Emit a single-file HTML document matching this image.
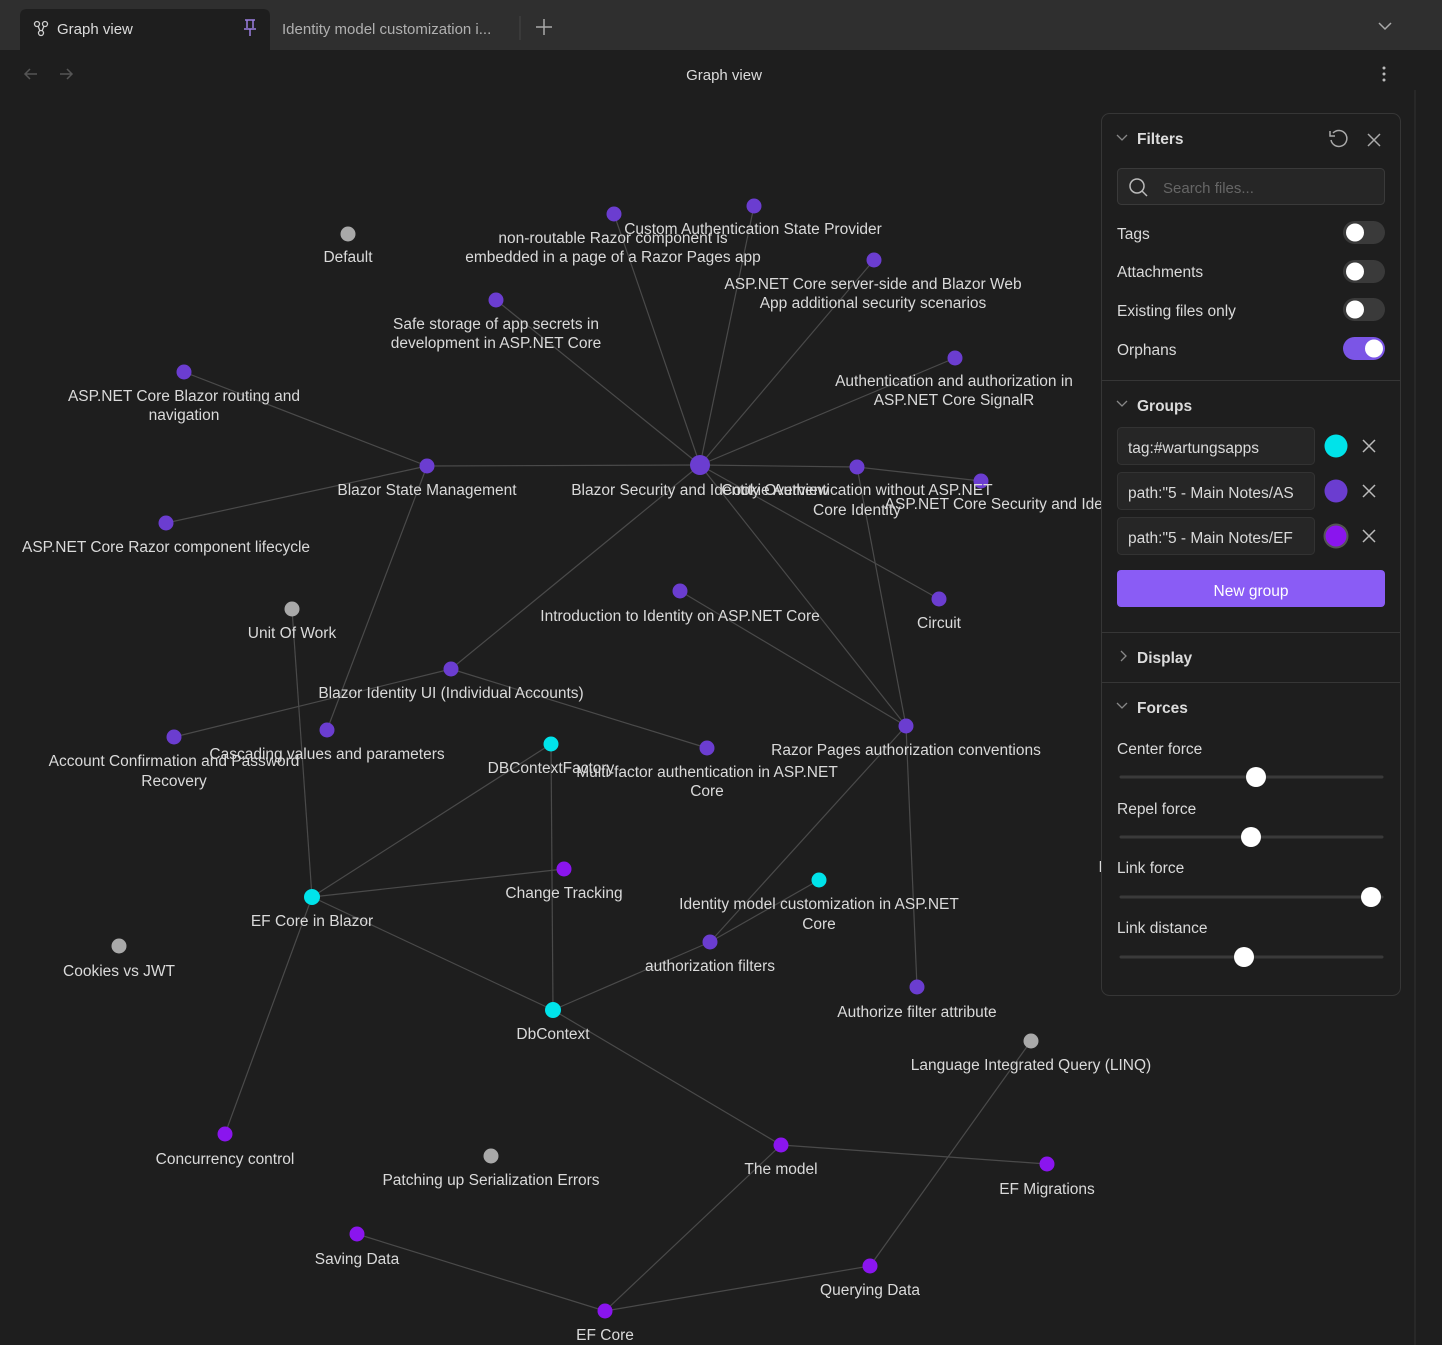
<!DOCTYPE html>
<html><head><meta charset="utf-8"><style>
html,body{margin:0;padding:0;background:#1e1e1e;width:1442px;height:1345px;overflow:hidden;font-family:"Liberation Sans",sans-serif}
svg text{font-family:"Liberation Sans",sans-serif}
</style></head><body>
<svg width="1442" height="1345" viewBox="0 0 1442 1345" xmlns="http://www.w3.org/2000/svg">
<rect width="1442" height="1345" fill="#1e1e1e"/>
<!-- tab bar -->
<rect width="1442" height="50" fill="#2f2f2f"/>
<path d="M20 50 V16 Q20 9 27 9 H263 Q270 9 270 16 V50 Z" fill="#1e1e1e"/>
<g stroke="#cfcfcf" stroke-width="1.3" fill="none"><circle cx="37" cy="24" r="2.5"/><circle cx="45" cy="24" r="2.5"/><circle cx="41" cy="33" r="2.5"/><path d="M38 26 L40 31 M44 26 L42 31"/></g>
<text x="57" y="34" font-size="15" fill="#dcdcdc">Graph view</text>
<g stroke="#9b7ee0" stroke-width="1.5" fill="none"><path d="M245 20 H255 M247 20 V28 M253 20 V28 M244 29 H256 M250 29 V36"/></g>
<text x="282" y="34" font-size="15" fill="#b0b0b0">Identity model customization i...</text>
<line x1="520" y1="16" x2="520" y2="40" stroke="#444"/>
<path d="M544 19 V35 M536 27 H552" stroke="#aaa" stroke-width="1.5"/>
<path d="M1379 23 L1385 29 L1391 23" stroke="#aaa" stroke-width="1.5" fill="none"/>
<!-- nav -->
<path d="M37 74 H25 M30 69 L25 74 L30 79" stroke="#555" stroke-width="1.5" fill="none"/>
<path d="M60 74 H72 M67 69 L72 74 L67 79" stroke="#555" stroke-width="1.5" fill="none"/>
<text x="724" y="80" font-size="15" fill="#dcdcdc" text-anchor="middle">Graph view</text>
<g fill="#bbb"><circle cx="1384" cy="68" r="1.5"/><circle cx="1384" cy="74" r="1.5"/><circle cx="1384" cy="80" r="1.5"/></g>
<line x1="1415" y1="90" x2="1415" y2="1345" stroke="#333"/>
<!-- edges -->
<g stroke="#4a4a4a" stroke-width="1.2">
<line x1="700" y1="465" x2="614" y2="214"/><line x1="700" y1="465" x2="754" y2="206"/><line x1="700" y1="465" x2="874" y2="260"/>
<line x1="700" y1="465" x2="496" y2="300"/><line x1="700" y1="465" x2="955" y2="358"/><line x1="700" y1="465" x2="427" y2="466"/>
<line x1="700" y1="465" x2="857" y2="467"/><line x1="857" y1="467" x2="981" y2="481"/><line x1="700" y1="465" x2="939" y2="599"/>
<line x1="700" y1="465" x2="906" y2="726"/><line x1="700" y1="465" x2="451" y2="669"/>
<line x1="857" y1="467" x2="906" y2="726"/><line x1="680" y1="591" x2="906" y2="726"/>
<line x1="451" y1="669" x2="707" y2="748"/><line x1="451" y1="669" x2="174" y2="737"/>
<line x1="427" y1="466" x2="184" y2="372"/><line x1="427" y1="466" x2="166" y2="523"/><line x1="427" y1="466" x2="327" y2="730"/>
<line x1="292" y1="609" x2="312" y2="897"/>
<line x1="312" y1="897" x2="551" y2="744"/><line x1="312" y1="897" x2="564" y2="869"/><line x1="312" y1="897" x2="553" y2="1010"/><line x1="312" y1="897" x2="225" y2="1134"/>
<line x1="551" y1="744" x2="553" y2="1010"/>
<line x1="553" y1="1010" x2="710" y2="942"/><line x1="710" y1="942" x2="819" y2="880"/><line x1="906" y1="726" x2="710" y2="942"/>
<line x1="906" y1="726" x2="917" y2="987"/>
<line x1="553" y1="1010" x2="781" y2="1145"/><line x1="781" y1="1145" x2="1047" y2="1164"/><line x1="781" y1="1145" x2="605" y2="1311"/>
<line x1="605" y1="1311" x2="357" y2="1234"/><line x1="605" y1="1311" x2="870" y2="1266"/><line x1="870" y1="1266" x2="1031" y2="1041"/>
</g>
<!-- nodes -->
<g fill="#6b3dd0">
<circle cx="614" cy="214" r="7.5"/><circle cx="754" cy="206" r="7.5"/><circle cx="874" cy="260" r="7.5"/><circle cx="496" cy="300" r="7.5"/>
<circle cx="955" cy="358" r="7.5"/><circle cx="184" cy="372" r="7.5"/><circle cx="427" cy="466" r="7.5"/><circle cx="700" cy="465" r="10"/>
<circle cx="857" cy="467" r="7.5"/><circle cx="981" cy="481" r="7.5"/><circle cx="166" cy="523" r="7.5"/><circle cx="680" cy="591" r="7.5"/>
<circle cx="939" cy="599" r="7.5"/><circle cx="451" cy="669" r="7.5"/><circle cx="174" cy="737" r="7.5"/><circle cx="327" cy="730" r="7.5"/>
<circle cx="707" cy="748" r="7.5"/><circle cx="906" cy="726" r="7.5"/><circle cx="710" cy="942" r="7.5"/><circle cx="917" cy="987" r="7.5"/>
</g>
<g fill="#8a15ee">
<circle cx="564" cy="869" r="7.5"/><circle cx="225" cy="1134" r="7.5"/><circle cx="781" cy="1145" r="7.5"/><circle cx="1047" cy="1164" r="7.5"/>
<circle cx="357" cy="1234" r="7.5"/><circle cx="870" cy="1266" r="7.5"/><circle cx="605" cy="1311" r="7.5"/>
</g>
<g fill="#00e3ea">
<circle cx="551" cy="744" r="7.5"/><circle cx="819" cy="880" r="7.5"/><circle cx="312" cy="897" r="8"/><circle cx="553" cy="1010" r="8"/>
</g>
<g fill="#a9a9a9">
<circle cx="348" cy="234" r="7.5"/><circle cx="292" cy="609" r="7.5"/><circle cx="119" cy="946" r="7.5"/><circle cx="1031" cy="1041" r="7.5"/><circle cx="491" cy="1156" r="7.5"/>
</g>
<!-- labels -->
<g font-size="15.5" fill="#dadada" text-anchor="middle">
<text x="348" y="262">Default</text>
<text x="613" y="243">non-routable Razor component is</text><text x="613" y="262">embedded in a page of a Razor Pages app</text>
<text x="753" y="234">Custom Authentication State Provider</text>
<text x="873" y="289">ASP.NET Core server-side and Blazor Web</text><text x="873" y="308">App additional security scenarios</text>
<text x="496" y="329">Safe storage of app secrets in</text><text x="496" y="348">development in ASP.NET Core</text>
<text x="954" y="386">Authentication and authorization in</text><text x="954" y="405">ASP.NET Core SignalR</text>
<text x="184" y="401">ASP.NET Core Blazor routing and</text><text x="184" y="420">navigation</text>
<text x="427" y="495">Blazor State Management</text>
<text x="700" y="495">Blazor Security and Identity Overview</text>
<text x="857" y="495">Cookie Authentication without ASP.NET</text><text x="857" y="515">Core Identity</text>
<text x="1008" y="509">ASP.NET Core Security and Identity</text>
<text x="166" y="552">ASP.NET Core Razor component lifecycle</text>
<text x="292" y="638">Unit Of Work</text>
<text x="680" y="621">Introduction to Identity on ASP.NET Core</text>
<text x="939" y="628">Circuit</text>
<text x="451" y="698">Blazor Identity UI (Individual Accounts)</text>
<text x="174" y="766">Account Confirmation and Password</text><text x="174" y="786">Recovery</text>
<text x="327" y="759">Cascading values and parameters</text>
<text x="551" y="773">DBContextFactory</text>
<text x="707" y="777">Multi-factor authentication in ASP.NET</text><text x="707" y="796">Core</text>
<text x="906" y="755">Razor Pages authorization conventions</text>
<text x="564" y="898">Change Tracking</text>
<text x="819" y="909">Identity model customization in ASP.NET</text><text x="819" y="929">Core</text>
<text x="312" y="926">EF Core in Blazor</text>
<text x="119" y="976">Cookies vs JWT</text>
<text x="710" y="971">authorization filters</text>
<text x="917" y="1017">Authorize filter attribute</text>
<text x="553" y="1039">DbContext</text>
<text x="1031" y="1070">Language Integrated Query (LINQ)</text>
<text x="225" y="1164">Concurrency control</text>
<text x="491" y="1185">Patching up Serialization Errors</text>
<text x="781" y="1174">The model</text>
<text x="1047" y="1194">EF Migrations</text>
<text x="357" y="1264">Saving Data</text>
<text x="870" y="1295">Querying Data</text>
<text x="605" y="1340">EF Core</text>
<text x="1110" y="677">W</text><text x="1110" y="872">IAu</text>
</g>
<!-- panel -->
<rect x="1101.5" y="113.5" width="299" height="882" rx="8" fill="#1e1e1e" stroke="#363636"/>
<path d="M1117 135 L1122 140 L1127 135" stroke="#888" stroke-width="1.3" fill="none"/>
<text x="1137" y="144" font-size="15.5" font-weight="bold" fill="#dcdcdc">Filters</text>
<path d="M1333 133 A8 8 0 1 1 1331 140" stroke="#aaa" stroke-width="1.5" fill="none"/><path d="M1330 131 V136 H1335" stroke="#aaa" stroke-width="1.5" fill="none"/>
<path d="M1368 134 L1380 146 M1380 134 L1368 146" stroke="#aaa" stroke-width="1.5"/>
<rect x="1117.5" y="168.5" width="267" height="36" rx="4" fill="#262626" stroke="#3a3a3a"/>
<circle cx="1137" cy="186" r="7" stroke="#bbb" stroke-width="1.5" fill="none"/><path d="M1142 191 L1147 196" stroke="#bbb" stroke-width="1.5"/>
<text x="1163" y="193" font-size="15" fill="#666">Search files...</text>
<g font-size="15.5" fill="#dadada">
<text x="1117" y="239">Tags</text><text x="1117" y="277">Attachments</text><text x="1117" y="316">Existing files only</text><text x="1117" y="355">Orphans</text>
</g>
<g fill="#3a3a3a"><rect x="1343" y="221" width="42" height="23" rx="11.5"/><rect x="1343" y="260" width="42" height="23" rx="11.5"/><rect x="1343" y="298" width="42" height="23" rx="11.5"/></g>
<rect x="1343" y="337" width="42" height="23" rx="11.5" fill="#7b55e6"/>
<g fill="#fff"><circle cx="1355" cy="232.5" r="9"/><circle cx="1355" cy="271.5" r="9"/><circle cx="1355" cy="309.5" r="9"/><circle cx="1374" cy="348.5" r="9"/></g>
<line x1="1102" y1="380.5" x2="1400" y2="380.5" stroke="#363636"/>
<path d="M1117 401 L1122 406 L1127 401" stroke="#888" stroke-width="1.3" fill="none"/>
<text x="1137" y="411" font-size="15.5" font-weight="bold" fill="#dcdcdc">Groups</text>
<g fill="#262626" stroke="#333"><rect x="1117.5" y="427.5" width="197" height="37" rx="4"/><rect x="1117.5" y="472.5" width="197" height="37" rx="4"/><rect x="1117.5" y="517.5" width="197" height="37" rx="4"/></g>
<g font-size="15.5" fill="#dadada"><text x="1128" y="453">tag:#wartungsapps</text><text x="1128" y="498">path:"5 - Main Notes/AS</text><text x="1128" y="543">path:"5 - Main Notes/EF</text></g>
<circle cx="1336" cy="446" r="11.5" fill="#00e3ea"/><circle cx="1336" cy="491" r="11.5" fill="#6b3dd0"/><circle cx="1336" cy="536" r="12.5" fill="#555"/><circle cx="1336" cy="536" r="10.5" fill="#8a15ee"/>
<g stroke="#bbb" stroke-width="1.5"><path d="M1363 440 L1375 452 M1375 440 L1363 452"/><path d="M1363 485 L1375 497 M1375 485 L1363 497"/><path d="M1363 530 L1375 542 M1375 530 L1363 542"/></g>
<rect x="1117" y="570" width="268" height="37" rx="4" fill="#8a5cf5"/>
<text x="1251" y="596" font-size="15.5" fill="#fff" text-anchor="middle">New group</text>
<line x1="1102" y1="632.5" x2="1400" y2="632.5" stroke="#363636"/>
<path d="M1121 651 L1126 656 L1121 661" stroke="#888" stroke-width="1.3" fill="none"/>
<text x="1137" y="663" font-size="15.5" font-weight="bold" fill="#dcdcdc">Display</text>
<line x1="1102" y1="682.5" x2="1400" y2="682.5" stroke="#363636"/>
<path d="M1117 703 L1122 708 L1127 703" stroke="#888" stroke-width="1.3" fill="none"/>
<text x="1137" y="713" font-size="15.5" font-weight="bold" fill="#dcdcdc">Forces</text>
<g font-size="15.5" fill="#dadada"><text x="1117" y="754">Center force</text><text x="1117" y="814">Repel force</text><text x="1117" y="873">Link force</text><text x="1117" y="933">Link distance</text></g>
<g stroke="#3a3a3a" stroke-width="3" stroke-linecap="round"><line x1="1121" y1="777" x2="1382" y2="777"/><line x1="1121" y1="837" x2="1382" y2="837"/><line x1="1121" y1="897" x2="1382" y2="897"/><line x1="1121" y1="957" x2="1382" y2="957"/></g>
<g fill="#fff"><circle cx="1256" cy="777" r="10"/><circle cx="1251" cy="837" r="10"/><circle cx="1371" cy="897" r="10"/><circle cx="1244" cy="957" r="10"/></g>
</svg>
</body></html>
